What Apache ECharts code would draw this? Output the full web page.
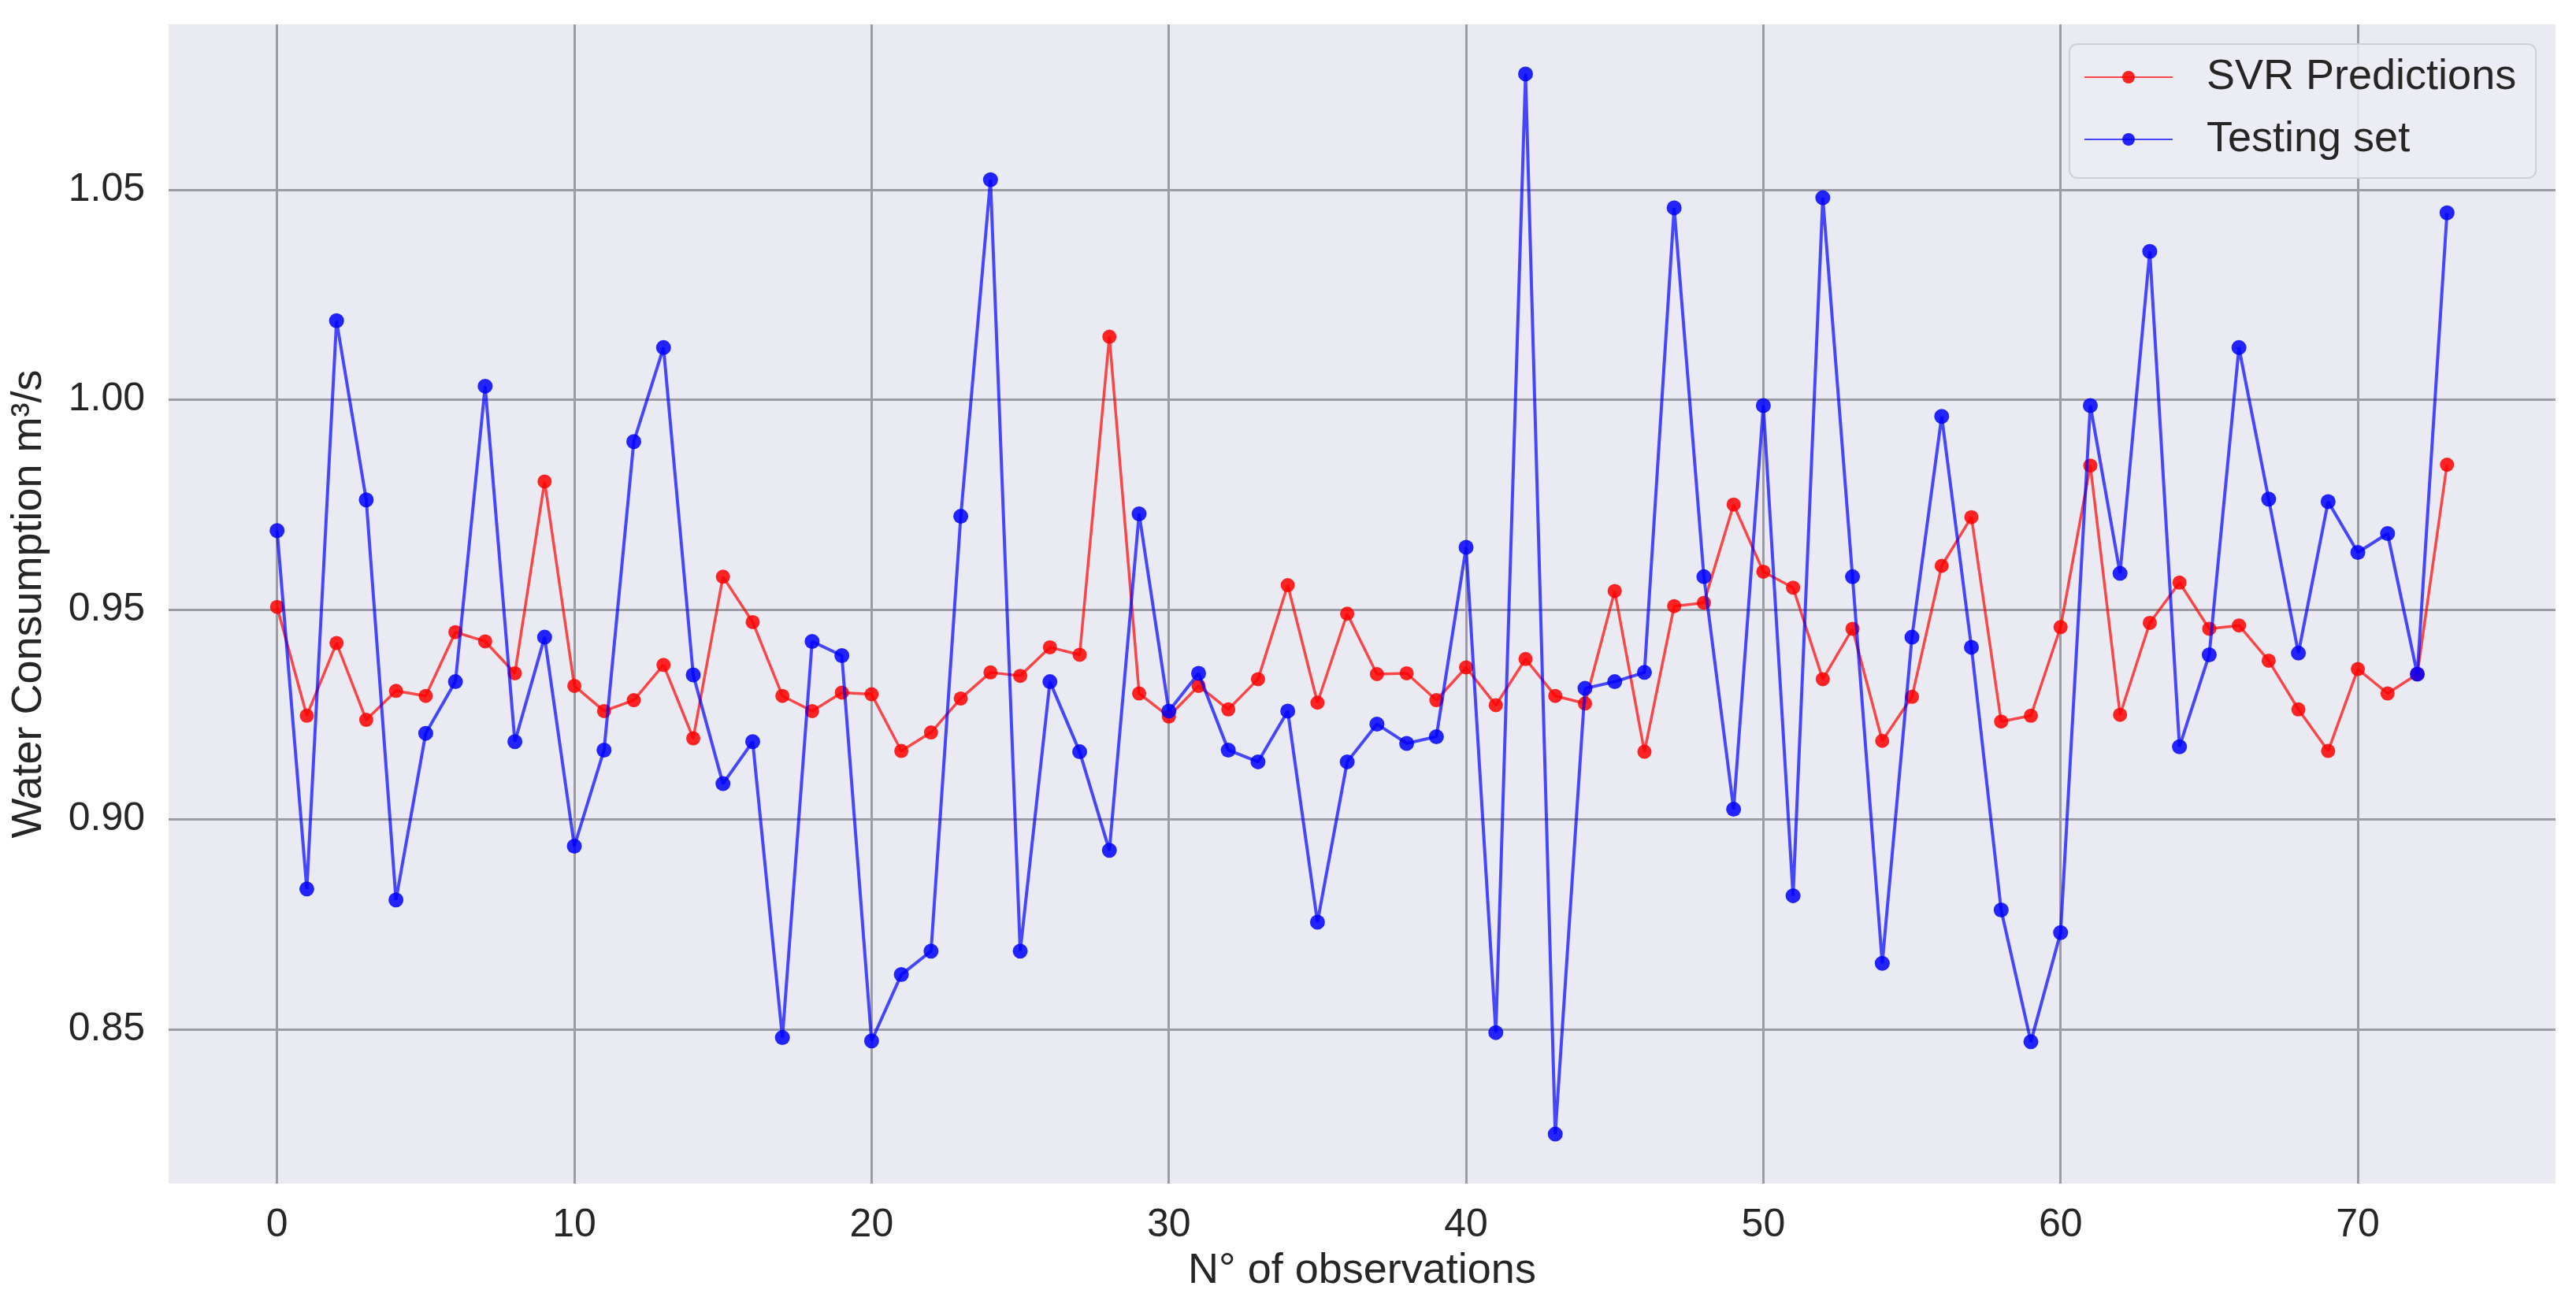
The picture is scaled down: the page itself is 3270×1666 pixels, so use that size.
<!DOCTYPE html>
<html>
<head>
<meta charset="utf-8">
<script src="https://cdn.jsdelivr.net/npm/echarts@6/dist/echarts.min.js"></script>
<style>
html,body{margin:0;padding:0;background:#ffffff;}
#chart{width:3270px;height:1666px;}
</style>
</head>
<body>
<div id="chart"></div>
<script>
// Observation index (x)
var observations = [0,1,2,3,4,5,6,7,8,9,10,11,12,13,14,15,16,17,18,19,20,21,22,23,24,25,26,27,28,29,30,31,32,33,34,35,36,37,38,39,40,41,42,43,44,45,46,47,48,49,50,51,52,53,54,55,56,57,58,59,60,61,62,63,64,65,66,67,68,69,70,71,72,73];

// SVR Predictions (red)
var svrPredictions = [
  0.9506,0.9247,0.9420,0.9237,0.9306,0.9294,0.9446,0.9424,0.9348,0.9805,
  0.9318,0.9258,0.9284,0.9368,0.9193,0.9578,0.9470,0.9294,0.9258,0.9302,
  0.9298,0.9163,0.9207,0.9288,0.9350,0.9342,0.9410,0.9392,1.0150,0.9300,
  0.9245,0.9318,0.9262,0.9334,0.9558,0.9278,0.9490,0.9346,0.9348,0.9284,
  0.9362,0.9272,0.9382,0.9294,0.9276,0.9544,0.9161,0.9508,0.9516,0.9750,
  0.9590,0.9552,0.9334,0.9454,0.9187,0.9292,0.9604,0.9720,0.9233,0.9247,
  0.9458,0.9843,0.9249,0.9468,0.9564,0.9454,0.9462,0.9378,0.9262,0.9163,
  0.9358,0.9300,0.9346,0.9845
];

// Testing set (blue)
var testingSet = [
  0.9688,0.8834,1.0188,0.9761,0.8808,0.9205,0.9328,1.0032,0.9185,0.9434,
  0.8936,0.9165,0.9900,1.0124,0.9344,0.9085,0.9185,0.8480,0.9424,0.9390,
  0.8472,0.8630,0.8686,0.9722,1.0524,0.8686,0.9328,0.9161,0.8926,0.9728,
  0.9258,0.9348,0.9165,0.9137,0.9258,0.8755,0.9137,0.9227,0.9181,0.9197,
  0.9648,0.8492,1.0776,0.8250,0.9312,0.9328,0.9350,1.0457,0.9578,0.9024,
  0.9986,0.8818,1.0481,0.9578,0.8657,0.9434,0.9960,0.9410,0.8784,0.8470,
  0.8730,0.9986,0.9586,1.0353,0.9173,0.9392,1.0124,0.9763,0.9396,0.9757,
  0.9636,0.9681,0.9346,1.0445
];

var seriesNames = ['SVR Predictions', 'Testing set'];
var xAxisTitle = 'N\u00b0 of observations';
var yAxisTitle = 'Water Consumption m\u00b3/s';

function pairs(xs, ys) {
  var out = [];
  for (var i = 0; i < xs.length; i++) out.push([xs[i], ys[i]]);
  return out;
}

var FONT = "'Liberation Sans', Arial, Helvetica, sans-serif";
var TEXT = '#262626';
var GRIDC = '#9c9ca4';

var chart = echarts.init(document.getElementById('chart'), null, {renderer: 'canvas'});
chart.setOption({
  animation: false,
  backgroundColor: '#ffffff',
  grid: {
    left: 214, right: 26, top: 31, bottom: 163,
    show: true, backgroundColor: '#eaeaf2', borderWidth: 0
  },
  xAxis: {
    type: 'value',
    min: -3.65, max: 76.65,
    splitNumber: 8,
    axisLine: {show: false},
    axisTick: {show: false},
    axisLabel: {
      show: true, margin: 28, fontSize: 50, color: TEXT, fontFamily: FONT,
      showMinLabel: false, showMaxLabel: false,
      formatter: function (v) { return (Math.abs(v % 10) < 1e-6) ? String(Math.round(v)) : ''; }
    },
    splitLine: {show: true, showMinLine: false, showMaxLine: false, lineStyle: {color: GRIDC, width: 3}},
    name: xAxisTitle,
    nameLocation: 'middle',
    nameGap: 84,
    nameTextStyle: {fontSize: 54, color: TEXT, fontFamily: FONT}
  },
  yAxis: {
    type: 'value',
    min: 0.8132, max: 1.0894,
    splitNumber: 5,
    axisLine: {show: false},
    axisTick: {show: false},
    axisLabel: {
      show: true, margin: 30, fontSize: 50, color: TEXT, fontFamily: FONT,
      showMinLabel: false, showMaxLabel: false,
      formatter: function (v) { return v.toFixed(2); }
    },
    splitLine: {show: true, showMinLine: false, showMaxLine: false, lineStyle: {color: GRIDC, width: 3}},
    name: yAxisTitle,
    nameLocation: 'middle',
    nameGap: 150,
    nameTextStyle: {fontSize: 54, color: TEXT, fontFamily: FONT}
  },
  legend: {
    orient: 'vertical',
    left: 2627, top: 56,
    padding: [15, 25, 22, 18],
    itemWidth: 112, itemHeight: 20, itemGap: 25,
    backgroundColor: 'rgba(236,236,244,0.85)',
    borderColor: '#cfcfd6', borderWidth: 2, borderRadius: 10,
    textStyle: {fontSize: 54, lineHeight: 54, color: TEXT, fontFamily: FONT, padding: [0, 0, 0, 38]},
    data: seriesNames
  },
  series: [
    {
      name: seriesNames[0],
      type: 'line',
      data: pairs(observations, svrPredictions),
      symbol: 'circle', symbolSize: 18, showAllSymbol: true,
      lineStyle: {color: 'rgba(255,0,0,0.7)', width: 3.5},
      itemStyle: {color: 'rgba(255,0,0,0.85)', borderWidth: 0},
      z: 2
    },
    {
      name: seriesNames[1],
      type: 'line',
      data: pairs(observations, testingSet),
      symbol: 'circle', symbolSize: 19, showAllSymbol: true,
      lineStyle: {color: 'rgba(0,0,255,0.7)', width: 4},
      itemStyle: {color: 'rgba(0,0,255,0.85)', borderWidth: 0},
      z: 3
    }
  ]
});
</script>
</body>
</html>
